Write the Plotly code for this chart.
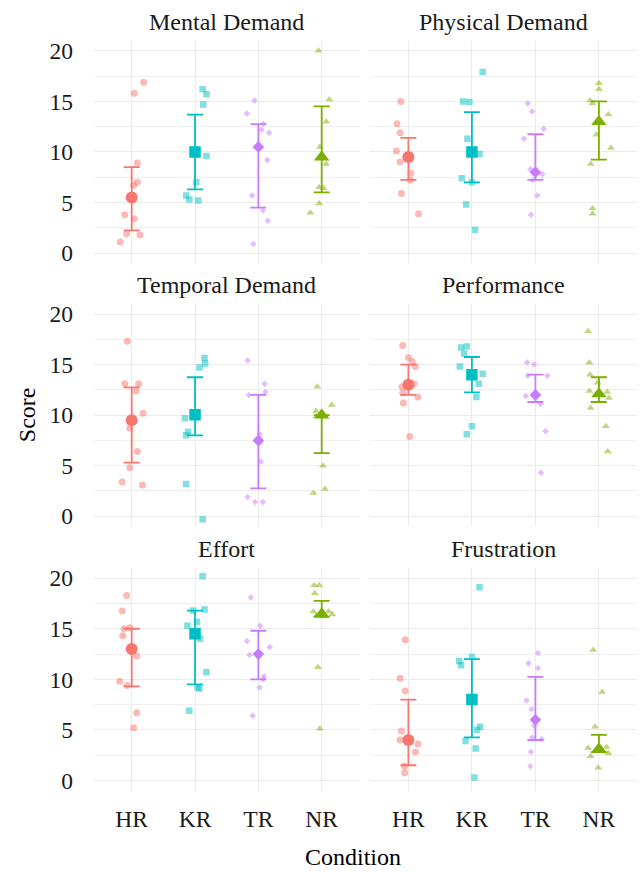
import plotly.graph_objects as go

conditions = ["HR", "KR", "TR", "NR"]
measures = ["Mental Demand", "Physical Demand", "Temporal Demand",
            "Performance", "Effort", "Frustration"]
colors = ["#F8766D", "#00BFC4", "#C77CFF", "#7CAE00"]
point_symbols = ["circle", "square", "diamond", "triangle-up"]

# ---- individual scores, per condition HR, KR, TR, NR ----
mental_demand = [
    [16.9, 15.8, 8.9, 7.0, 6.7, 3.8, 3.4, 1.9, 1.8, 1.1],
    [16.2, 15.7, 14.7, 9.6, 7.0, 5.7, 5.3, 5.2],
    [15.1, 13.8, 12.8, 12.2, 11.9, 9.2, 5.7, 4.2, 3.2, 0.9],
    [20.0, 15.2, 13.0, 10.5, 8.8, 6.5, 6.4, 4.9, 4.0],
]
mental_demand_jitter = [
    [0.19, 0.04, 0.09, 0.09, 0.03, -0.11, 0.04, -0.08, 0.13, -0.18],
    [0.12, 0.18, 0.13, 0.18, 0.02, -0.14, -0.09, 0.05],
    [-0.06, -0.18, 0.08, 0.05, 0.17, 0.14, -0.10, 0.07, 0.15, -0.08],
    [-0.05, 0.12, 0.07, -0.03, 0.07, -0.04, 0.03, -0.04, -0.18],
]
physical_demand = [
    [15.0, 12.8, 11.9, 10.1, 9.0, 7.9, 7.2, 5.9, 3.9],
    [17.9, 15.0, 14.95, 11.3, 9.8, 7.4, 7.0, 4.8, 2.3],
    [14.8, 14.0, 12.3, 11.3, 8.3, 7.8, 7.2, 5.7, 3.8],
    [16.8, 16.2, 15.1, 14.8, 13.7, 11.7, 10.4, 8.8, 4.4, 3.9],
]
physical_demand_jitter = [
    [-0.12, -0.18, -0.13, -0.19, -0.13, 0.04, 0.03, -0.11, 0.16],
    [0.17, -0.14, -0.04, -0.07, 0.12, -0.16, 0.0, -0.09, 0.05],
    [-0.12, -0.05, 0.13, -0.18, -0.08, 0.11, -0.04, 0.03, -0.07],
    [0.0, 0.0, -0.14, -0.10, 0.15, -0.04, 0.19, -0.13, -0.10, -0.10],
]
temporal_demand = [
    [17.3, 13.1, 13.1, 12.4, 10.2, 8.7, 6.4, 4.8, 3.4, 3.1],
    [15.65, 15.1, 14.7, 9.7, 8.35, 8.0, 3.2, -0.3],
    [15.4, 13.1, 12.3, 12.0, 8.1, 7.3, 5.4, 1.9, 1.4, 1.4],
    [12.8, 11.0, 10.4, 10.1, 9.9, 5.0, 2.7, 2.3],
]
temporal_demand_jitter = [
    [-0.07, -0.11, 0.11, 0.07, 0.18, -0.03, 0.09, -0.03, -0.15, 0.17],
    [0.15, 0.16, 0.07, -0.16, -0.11, -0.14, -0.14, 0.12],
    [-0.17, 0.10, 0.11, -0.15, 0.02, 0.03, 0.04, -0.17, -0.05, 0.07],
    [-0.07, 0.16, -0.09, 0.02, -0.08, 0.02, 0.05, -0.13],
]
performance = [
    [16.9, 15.7, 15.3, 14.8, 13.1, 12.8, 12.2, 11.8, 11.2, 7.9],
    [16.7, 16.8, 16.1, 14.8, 14.1, 13.1, 11.8, 8.9, 8.1],
    [15.2, 15.0, 13.9, 13.9, 11.9, 11.1, 8.4, 4.3],
    [18.3, 15.2, 14.0, 13.2, 12.4, 12.3, 11.7, 10.7, 8.9, 6.4],
]
performance_jitter = [
    [-0.09, 0.0, 0.06, 0.11, 0.09, -0.10, -0.09, 0.15, -0.08, 0.02],
    [-0.17, -0.08, -0.12, -0.19, 0.17, 0.11, 0.07, 0.0, -0.08],
    [-0.13, -0.02, -0.12, 0.19, -0.15, 0.08, 0.16, 0.09],
    [-0.17, -0.15, -0.14, -0.02, -0.15, 0.13, 0.16, -0.13, 0.11, 0.14],
]
effort = [
    [18.3, 16.75, 15.0, 15.1, 14.3, 12.3, 9.8, 9.4, 6.7, 5.2],
    [20.2, 16.9, 16.8, 15.7, 15.3, 14.0, 10.7, 9.2, 9.1, 6.9],
    [18.1, 15.3, 13.8, 13.2, 12.4, 10.3, 10.0, 9.2, 6.4],
    [19.3, 19.3, 18.5, 16.7, 16.7, 16.3, 16.4, 16.2, 11.2, 5.1],
]
effort_jitter = [
    [-0.08, -0.15, -0.12, -0.03, -0.14, 0.08, -0.19, -0.07, 0.08, 0.03],
    [0.12, 0.15, -0.03, 0.03, -0.12, 0.08, 0.18, 0.04, 0.07, -0.09],
    [-0.12, 0.03, -0.18, 0.18, -0.14, 0.09, 0.07, 0.02, -0.09],
    [-0.12, -0.04, -0.11, -0.13, 0.11, -0.08, 0.17, 0.03, -0.06, -0.03],
]
frustration = [
    [13.9, 10.1, 8.85, 4.9, 4.0, 3.6, 2.8, 1.4, 0.75],
    [19.1, 12.2, 11.8, 11.4, 5.3, 5.0, 3.9, 3.15, 0.3],
    [12.6, 11.6, 11.1, 7.9, 7.05, 5.4, 4.25, 4.1, 2.8, 1.4],
    [12.9, 8.75, 5.3, 3.2, 3.3, 2.4, 2.7, 1.25],
]
frustration_jitter = [
    [-0.05, -0.13, -0.05, -0.11, -0.13, 0.15, 0.11, -0.06, -0.06],
    [0.12, 0.0, -0.20, -0.17, 0.13, 0.08, -0.10, 0.06, 0.04],
    [0.04, -0.11, 0.04, -0.14, -0.06, -0.02, -0.05, 0.10, -0.07, -0.08],
    [-0.09, 0.05, -0.06, -0.17, 0.12, -0.13, 0.15, -0.01],
]

# ---- medians and interquartile range ----
median_mental = [5.5, 10.0, 10.5, 9.5]
q1_mental = [2.25, 6.3, 4.5, 6.0]
q3_mental = [8.5, 13.7, 12.75, 14.5]

median_physical = [9.5, 10.0, 8.0, 13.0]
q1_physical = [7.25, 7.0, 7.25, 9.25]
q3_physical = [11.4, 13.95, 11.75, 15.0]

median_temporal = [9.5, 10.05, 7.5, 10.0]
q1_temporal = [5.3, 8.0, 2.75, 6.25]
q3_temporal = [12.75, 13.75, 12.0, 10.0]

median_performance = [13.0, 14.0, 12.0, 12.1]
q1_performance = [12.0, 12.25, 11.3, 11.3]
q3_performance = [15.0, 15.75, 14.0, 13.75]

median_effort = [13.0, 14.5, 12.5, 16.45]
q1_effort = [9.3, 9.5, 10.0, 16.2]
q3_effort = [15.0, 16.8, 14.8, 17.75]

median_frustration = [4.0, 8.0, 6.0, 3.1]
q1_frustration = [1.5, 4.25, 4.0, 2.8]
q3_frustration = [8.0, 12.0, 10.25, 4.5]

y_ticks = [0, 5, 10, 15, 20]

panels = [
    (mental_demand, mental_demand_jitter, median_mental, q1_mental, q3_mental),
    (physical_demand, physical_demand_jitter, median_physical, q1_physical, q3_physical),
    (temporal_demand, temporal_demand_jitter, median_temporal, q1_temporal, q3_temporal),
    (performance, performance_jitter, median_performance, q1_performance, q3_performance),
    (effort, effort_jitter, median_effort, q1_effort, q3_effort),
    (frustration, frustration_jitter, median_frustration, q1_frustration, q3_frustration),
]

# ---- layout geometry (pixels) ----
W, H = 644, 872
col_px = [(93.7, 359.7), (370.3, 637.0)]
row_px = [(38, 262), (303, 527), (569, 793)]
FONT = "Liberation Serif"
FS = 24
FS_TICK = 23.5

point_sizes = [7, 6.5, 5, 7]
median_sizes = [12, 11.5, 9, 13.5]

fig = go.Figure()
layout = dict(
    width=W, height=H,
    margin=dict(l=0, r=0, t=0, b=0),
    paper_bgcolor="white", plot_bgcolor="white",
    showlegend=False,
    font=dict(family=FONT, size=FS, color="#1A1A1A"),
    annotations=[],
)

for i, (vals, jit, med, q1, q3) in enumerate(panels):
    r, c = divmod(i, 2)
    n = i + 1
    xa = "x" if n == 1 else f"x{n}"
    ya = "y" if n == 1 else f"y{n}"
    for k, cond in enumerate(conditions):
        fig.add_trace(go.Scatter(
            x=[k + 1 + j for j in jit[k]], y=vals[k],
            mode="markers", xaxis=xa, yaxis=ya,
            marker=dict(color=colors[k], symbol=point_symbols[k],
                        size=point_sizes[k], opacity=0.5, line=dict(width=0)),
            hoverinfo="skip",
        ))
    for k, cond in enumerate(conditions):
        fig.add_trace(go.Scatter(
            x=[k + 1], y=[med[k]],
            mode="markers", xaxis=xa, yaxis=ya,
            marker=dict(color=colors[k], symbol=point_symbols[k],
                        size=median_sizes[k], line=dict(width=0)),
            error_y=dict(type="data", symmetric=False,
                         array=[q3[k] - med[k]], arrayminus=[med[k] - q1[k]],
                         color=colors[k], thickness=1.8, width=8),
            hoverinfo="skip",
        ))
    x0, x1 = col_px[c]
    y0, y1 = row_px[r]
    xdom = [x0 / W, x1 / W]
    ydom = [1 - y1 / H, 1 - y0 / H]
    layout["xaxis" if n == 1 else f"xaxis{n}"] = dict(
        domain=xdom, anchor=ya, range=[0.4, 4.6],
        tickmode="array", tickvals=[1, 2, 3, 4], ticktext=conditions,
        showticklabels=(r == 2), ticks="outside", ticklen=7,
        tickcolor="rgba(0,0,0,0)",
        tickfont=dict(family=FONT, size=FS_TICK, color="#1A1A1A"),
        showgrid=True, gridcolor="#EBEBEB", gridwidth=1.4,
        zeroline=False, showline=False, fixedrange=True,
    )
    layout["yaxis" if n == 1 else f"yaxis{n}"] = dict(
        domain=ydom, anchor=xa, range=[-1.0, 21.0],
        tickmode="array", tickvals=y_ticks,
        showticklabels=(c == 0), ticks="outside", ticklen=15,
        tickcolor="rgba(0,0,0,0)",
        tickfont=dict(family=FONT, size=FS_TICK, color="#1A1A1A"),
        showgrid=True, gridcolor="#EBEBEB", gridwidth=1.4,
        minor=dict(tickvals=[2.5, 7.5, 12.5, 17.5], showgrid=True,
                   gridcolor="#EFEFEF", gridwidth=0.8),
        zeroline=False, showline=False, fixedrange=True,
    )
    layout["annotations"].append(dict(
        text=measures[i], xref="paper", yref="paper",
        x=(x0 + x1) / 2 / W, y=1 - (y0 - 19) / H,
        xanchor="center", yanchor="middle", showarrow=False,
        font=dict(family=FONT, size=FS, color="#1A1A1A"),
    ))

layout["annotations"].append(dict(
    text="Condition", xref="paper", yref="paper",
    x=353 / W, y=1 - 860 / H, xanchor="center", yanchor="middle",
    showarrow=False, font=dict(family=FONT, size=FS, color="black"),
))
layout["annotations"].append(dict(
    text="Score", xref="paper", yref="paper",
    x=27 / W, y=1 - 415 / H, xanchor="center", yanchor="middle",
    textangle=-90, showarrow=False,
    font=dict(family=FONT, size=FS, color="black"),
))

fig.update_layout(**layout)
fig.write_html("out.html",
               config={"displayModeBar": False},
               post_script="document.body.style.margin='0';"
                           "document.body.style.padding='0';")
